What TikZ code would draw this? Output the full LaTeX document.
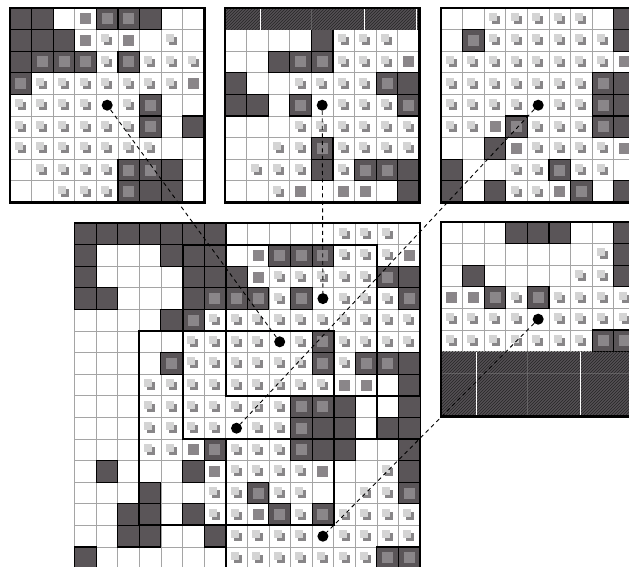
\documentclass[tikz,border=0pt]{standalone}
\usetikzlibrary{patterns}
\definecolor{darkc}{RGB}{90,85,88}
\definecolor{medc}{RGB}{138,134,137}
\definecolor{lightc}{RGB}{212,212,212}
\definecolor{shadc}{RGB}{136,134,136}
\definecolor{gridc}{RGB}{165,165,165}
\definecolor{hatchc}{RGB}{84,80,84}
\tikzset{
  gridln/.style={draw=gridc,line width=0.8pt,fill=white},
  darkln/.style={draw=black,fill=darkc,line width=1.1pt},
  winln/.style={draw=black,line width=2pt},
  panelln/.style={draw=black,line width=2.4pt},
  dashln/.style={draw=black,line width=0.9pt,dash pattern=on 4pt off 3.5pt},
  dotc/.style={circle,fill=black,inner sep=0pt,minimum size=11pt},
  seam/.style={draw=white,line width=1pt},
  faint/.style={draw=gray,line width=0.6pt,opacity=0.5}
}
\newcommand\csz{21.6}
% pass A: white cells
\newcommand\cellaW[2]{\filldraw[gridln] (#1,#2) rectangle ++(\csz,\csz);}
\newcommand\cellaX[2]{\cellaW{#1}{#2}}
\newcommand\cellaL[2]{\cellaW{#1}{#2}\fill[shadc] (#1+7.8,#2+7.8) rectangle ++(8,8);\fill[lightc] (#1+4.8,#2+4.8) rectangle ++(8,8);}
\newcommand\cellaM[2]{\cellaW{#1}{#2}\fill[medc] (#1+5.3,#2+5.3) rectangle ++(11,11);}
\newcommand\cellaD[2]{}
\newcommand\cellaE[2]{}
% pass B: dark cells
\newcommand\cellbW[2]{}
\newcommand\cellbX[2]{}
\newcommand\cellbL[2]{}
\newcommand\cellbM[2]{}
\newcommand\cellbD[2]{\filldraw[darkln] (#1,#2) rectangle ++(\csz,\csz);}
\newcommand\cellbE[2]{\cellbD{#1}{#2}\fill[medc] (#1+5.3,#2+5.3) rectangle ++(11,11);}
\newcommand\drawgrid[3]{%
  \foreach \rw [count=\r from 0] in {#3} {
    \foreach \cd [count=\k from 0] in \rw {
      \pgfmathsetmacro\xx{#1+\k*\csz}\pgfmathsetmacro\yy{#2+\r*\csz}
      \csname cella\cd\endcsname{\xx}{\yy}
    }}
  \foreach \rw [count=\r from 0] in {#3} {
    \foreach \cd [count=\k from 0] in \rw {
      \pgfmathsetmacro\xx{#1+\k*\csz}\pgfmathsetmacro\yy{#2+\r*\csz}
      \csname cellb\cd\endcsname{\xx}{\yy}
    }}
}
\begin{document}
\begin{tikzpicture}[x=1pt,y=-1pt]
\useasboundingbox (0,0) rectangle (629,567);
\clip (0,0) rectangle (629,567);
\fill[white] (0,0) rectangle (629,567);
% ---------- main grid ----------
\drawgrid{74.5}{223}{%
{D,D,D,D,D,D,D,W,W,W,W,W,L,L,L,W},
{D,W,W,W,D,D,D,W,M,E,E,E,L,L,L,M},
{D,W,W,W,W,D,D,D,M,L,L,L,L,L,E,D},
{D,D,W,W,W,D,E,E,E,L,E,X,L,L,L,E},
{W,W,W,W,D,E,L,L,L,L,L,L,L,L,L,L},
{W,W,W,W,W,L,L,L,L,X,L,E,L,L,L,L},
{W,W,W,W,E,L,L,L,L,L,L,E,L,E,E,D},
{W,W,W,L,L,L,L,L,L,L,L,L,M,M,W,D},
{W,W,W,L,L,L,L,L,L,L,E,E,D,W,W,D},
{W,W,W,L,L,L,L,X,L,L,E,D,D,W,D,D},
{W,W,W,L,L,M,E,L,L,L,E,D,D,W,W,D},
{W,D,W,W,W,D,M,L,L,L,L,M,W,W,L,D},
{W,W,W,D,W,W,L,L,E,L,L,W,W,L,L,E},
{W,W,D,D,W,D,L,L,M,E,L,E,L,L,L,L},
{W,W,D,D,W,W,D,L,L,L,L,X,L,L,L,L},
{D,W,W,W,W,W,W,L,L,L,L,L,L,L,E,E}}
% windows in the main grid
\draw[winln] (74.5+5*\csz,223+1*\csz) rectangle (74.5+14*\csz,223+10*\csz);
\draw[winln] (74.5+7*\csz,223) rectangle (74.5+16*\csz,223+8*\csz);
\draw[winln] (74.5+3*\csz,223+5*\csz) rectangle (74.5+12*\csz,223+14*\csz);
\draw[winln] (74.5+7*\csz,223+10*\csz) rectangle (74.5+16*\csz,223+19*\csz);
% ---------- top-left panel ----------
\drawgrid{10}{8}{%
{D,D,W,M,E,E,D,W,W},
{D,D,D,M,L,M,W,L,W},
{D,E,E,E,L,E,L,L,L},
{E,L,L,L,L,L,L,L,M},
{L,L,L,L,X,L,E,W,W},
{L,L,L,L,L,L,E,W,D},
{L,L,L,L,L,L,L,W,W},
{W,L,L,L,L,E,E,D,W},
{W,W,L,L,L,E,D,D,W}}
\draw[panelln] (10,8) rectangle ++(9*\csz,9*\csz);
% ---------- top-middle panel ----------
\drawgrid{225}{8+\csz}{%
{W,W,W,W,D,L,L,L,W},
{W,W,D,E,E,L,L,L,M},
{D,W,W,L,L,L,L,E,D},
{D,D,W,E,X,L,L,L,E},
{W,W,W,L,L,L,L,L,L},
{W,W,L,L,E,L,L,L,L},
{W,L,L,L,D,L,E,E,D},
{W,W,L,M,W,M,M,W,D}}
\fill[hatchc] (225,8) rectangle ++(9*\csz,\csz);
\fill[pattern=north east lines,pattern color=black!85] (225,8) rectangle ++(9*\csz,\csz);
\draw[faint] (225+4*\csz,8) -- ++(0,\csz);
\draw[seam] (260,8) -- ++(0,\csz);
\draw[seam] (364.3,8) -- ++(0,\csz);
\draw[seam] (416.7,8) -- ++(0,\csz);
\draw[panelln] (225,8) rectangle ++(9*\csz,9*\csz);
% ---------- top-right panel ----------
\drawgrid{441}{8}{%
{W,W,L,L,L,L,L,W,D},
{W,E,L,L,L,L,L,L,D},
{L,L,L,L,L,L,L,L,M},
{L,L,L,L,L,L,L,E,D},
{L,L,L,L,X,L,L,E,D},
{L,L,M,E,L,L,L,E,D},
{W,W,D,M,L,L,L,L,M},
{D,W,W,L,L,E,L,L,W},
{D,W,D,L,L,M,E,W,D}}
\draw[panelln] (441,8) rectangle ++(9*\csz,9*\csz);
% ---------- middle-right panel ----------
\drawgrid{441}{222}{%
{W,W,W,D,D,D,W,W,D},
{W,W,W,W,W,W,W,L,D},
{W,D,W,W,W,W,L,L,D},
{M,M,E,L,E,L,L,L,L},
{L,L,L,L,X,L,L,L,L},
{L,L,L,L,L,L,L,E,E}}
\fill[hatchc] (441,222+6*\csz) rectangle ++(9*\csz,3*\csz);
\fill[pattern=north east lines,pattern color=black!85] (441,222+6*\csz) rectangle ++(9*\csz,3*\csz);
\draw[faint] (441+4*\csz,222+6*\csz) -- ++(0,3*\csz);
\draw[faint] (441,222+7*\csz) -- ++(9*\csz,0);
\draw[seam] (476,222+6*\csz) -- ++(0,3*\csz);
\draw[seam] (580.7,222+6*\csz) -- ++(0,3*\csz);
\draw[panelln] (441,222) rectangle ++(9*\csz,9*\csz);
% ---------- dots ----------
\node[dotc] (m1) at (74.5+9.5*\csz,223+5.5*\csz) {};
\node[dotc] (m2) at (74.5+11.5*\csz,223+3.5*\csz) {};
\node[dotc] (m3) at (74.5+7.5*\csz,223+9.5*\csz) {};
\node[dotc] (m4) at (74.5+11.5*\csz,223+14.5*\csz) {};
\node[dotc] (ptl) at (10+4.5*\csz,8+4.5*\csz) {};
\node[dotc] (ptm) at (225+4.5*\csz,8+4.5*\csz) {};
\node[dotc] (ptr) at (441+4.5*\csz,8+4.5*\csz) {};
\node[dotc] (pmr) at (441+4.5*\csz,222+4.5*\csz) {};
% ---------- connectors ----------
\draw[dashln] (ptl) -- (m1);
\draw[dashln] (ptm) -- (m2);
\draw[dashln] (ptr) -- (m3);
\draw[dashln] (pmr) -- (m4);
\end{tikzpicture}
\end{document}
